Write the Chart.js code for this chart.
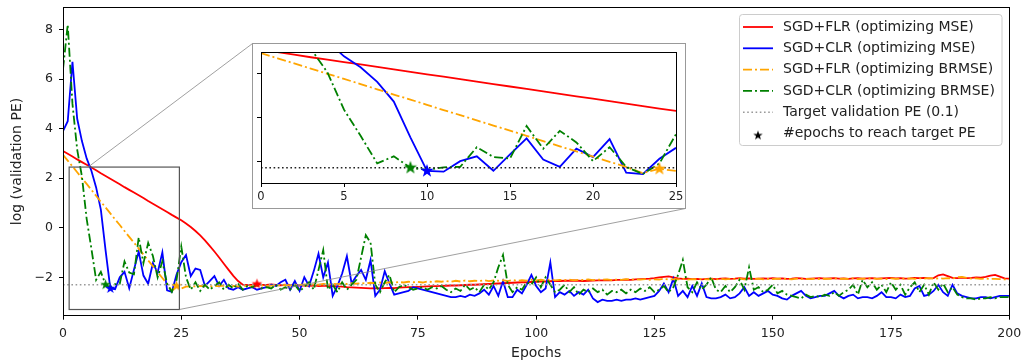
<!DOCTYPE html>
<html>
<head>
<meta charset="utf-8">
<script src="https://cdn.jsdelivr.net/npm/chart.js@4.4.1/dist/chart.umd.min.js"></script>
<style>
  html, body { margin: 0; padding: 0; background: #fff; }
  #wrap { position: relative; width: 1023px; height: 362px; }
  #main { position: absolute; left: 0; top: 0; }
  #insetBox { position: absolute; left: 252px; top: 43px; width: 434px; height: 166px;
              border: 1px solid #999; box-sizing: border-box; background: #fff; }
</style>
</head>
<body>
<div id="wrap">
  <canvas id="main" width="1023" height="362"></canvas>
  <div id="insetBox"><canvas id="inset" width="432" height="164"></canvas></div>
</div>
<script>
// ---- data (log validation PE per epoch, 0..200) ----
var epochs = [];
for (var i = 0; i <= 200; i++) epochs.push(i);

var flrMse = [3.10,2.99,2.88,2.76,2.65,2.54,2.43,2.32,2.20,2.09,1.98,1.87,1.76,1.64,1.53,1.42,1.31,1.20,1.08,0.97,
  0.86,0.75,0.64,0.52,0.41,0.30,0.17,0.03,-0.13,-0.31,-0.51,-0.73,-0.96,-1.20,-1.45,-1.70,-1.94,-2.15,-2.30,-2.31,
  -2.30,-2.27,-2.30,-2.31,-2.29,-2.31,-2.32,-2.30,-2.31,-2.33,-2.32,-2.33,-2.34,-2.33,-2.35,-2.34,-2.36,-2.35,-2.37,-2.38,
  -2.40,-2.41,-2.42,-2.43,-2.44,-2.45,-2.44,-2.45,-2.44,-2.43,-2.44,-2.42,-2.41,-2.40,-2.40,-2.39,-2.38,-2.37,-2.36,-2.36,
  -2.35,-2.34,-2.33,-2.33,-2.32,-2.31,-2.30,-2.30,-2.29,-2.28,-2.27,-2.26,-2.25,-2.24,-2.23,-2.22,-2.21,-2.20,-2.20,-2.19,
  -2.18,-2.17,-2.17,-2.16,-2.15,-2.15,-2.14,-2.14,-2.13,-2.14,-2.15,-2.14,-2.13,-2.12,-2.12,-2.11,-2.12,-2.10,-2.10,-2.09,
  -2.10,-2.08,-2.07,-2.06,-2.05,-2.03,-2.00,-1.98,-1.96,-2.00,-2.04,-2.06,-2.05,-2.07,-2.06,-2.08,-2.06,-2.05,-2.07,-2.05,
  -2.04,-2.06,-2.05,-2.03,-2.05,-2.04,-2.06,-2.05,-2.04,-2.05,-2.03,-2.05,-2.04,-2.06,-2.05,-2.03,-2.04,-2.06,-2.05,-2.04,
  -2.03,-2.05,-2.04,-2.03,-2.05,-2.04,-2.06,-2.04,-2.03,-2.05,-2.04,-2.03,-2.05,-2.04,-2.03,-2.02,-2.04,-2.03,-2.05,-2.04,
  -2.02,-2.03,-2.02,-2.04,-2.03,-1.92,-1.88,-1.95,-2.02,-2.03,-2.01,-2.03,-2.02,-2.00,-2.01,-1.98,-1.93,-1.90,-1.97,-2.04,
  -2.05];

var clrMse = [3.90,4.30,6.70,4.40,3.50,2.80,2.30,1.63,0.73,-0.91,-2.45,-2.48,-2.00,-1.78,-2.44,-1.69,-0.96,-1.93,-2.26,-1.43,
  -1.81,-0.99,-2.53,-2.59,-1.89,-1.39,-1.10,-1.95,-1.65,-1.70,-2.35,-2.15,-1.95,-2.35,-2.10,-2.45,-2.50,-2.40,-2.50,-2.45,
  -2.40,-2.50,-2.45,-2.40,-2.30,-2.35,-2.20,-2.10,-2.50,-2.15,-2.55,-2.00,-2.35,-1.75,-1.05,-2.00,-1.40,-2.75,-2.35,-1.85,
  -1.15,-2.25,-1.95,-1.70,-2.10,-1.30,-2.75,-2.50,-1.75,-2.25,-2.70,-2.65,-2.60,-2.55,-2.40,-2.45,-2.50,-2.55,-2.60,-2.65,
  -2.70,-2.75,-2.80,-2.80,-2.75,-2.80,-2.70,-2.75,-2.65,-2.50,-2.70,-2.35,-2.75,-2.15,-2.80,-2.80,-2.50,-2.65,-2.30,-1.90,
  -2.35,-2.60,-2.45,-1.40,-2.80,-2.60,-2.70,-2.55,-2.75,-2.60,-2.70,-2.50,-2.85,-3.00,-2.90,-2.95,-2.95,-2.90,-2.95,-2.90,
  -2.90,-2.85,-2.90,-2.85,-2.80,-2.75,-2.55,-2.25,-2.60,-2.05,-2.75,-2.55,-2.80,-2.35,-2.75,-2.25,-2.80,-2.85,-2.85,-2.80,
  -2.70,-2.85,-2.80,-2.65,-2.40,-2.75,-2.60,-2.75,-2.65,-2.55,-2.70,-2.75,-2.85,-2.90,-2.75,-2.65,-2.55,-2.75,-2.85,-2.80,
  -2.75,-2.75,-2.65,-2.55,-2.75,-2.85,-2.75,-2.70,-2.85,-2.80,-2.80,-2.85,-2.75,-2.60,-2.80,-2.80,-2.85,-2.70,-2.80,-2.75,
  -2.45,-2.35,-2.75,-2.70,-2.55,-2.30,-2.60,-2.75,-2.30,-2.65,-2.75,-2.80,-2.85,-2.85,-2.80,-2.80,-2.85,-2.80,-2.75,-2.75,
  -2.75];

var flrBrmse = [2.95,2.71,2.48,2.24,2.00,1.77,1.53,1.29,1.05,0.82,0.58,0.34,0.11,-0.13,-0.37,-0.60,-0.84,-1.08,-1.32,-1.55,
  -1.79,-2.03,-2.26,-2.55,-2.35,-2.45,-2.38,-2.36,-2.37,-2.35,-2.36,-2.37,-2.35,-2.36,-2.34,-2.36,-2.35,-2.37,-2.35,-2.34,
  -2.36,-2.35,-2.33,-2.35,-2.34,-2.32,-2.33,-2.31,-2.33,-2.30,-2.31,-2.29,-2.31,-2.28,-2.30,-2.27,-2.29,-2.26,-2.28,-2.25,
  -2.27,-2.24,-2.26,-2.23,-2.25,-2.22,-2.24,-2.21,-2.23,-2.20,-2.22,-2.19,-2.21,-2.18,-2.20,-2.18,-2.21,-2.17,-2.19,-2.16,
  -2.18,-2.15,-2.18,-2.14,-2.17,-2.13,-2.16,-2.14,-2.15,-2.12,-2.15,-2.13,-2.14,-2.12,-2.15,-2.11,-2.14,-2.12,-2.13,-2.10,
  -2.12,-2.10,-2.13,-2.09,-2.12,-2.10,-2.11,-2.09,-2.12,-2.10,-2.11,-2.08,-2.11,-2.09,-2.10,-2.08,-2.11,-2.09,-2.10,-2.07,
  -2.10,-2.08,-2.09,-2.07,-2.10,-2.08,-2.09,-2.06,-2.09,-2.07,-2.08,-2.06,-2.09,-2.07,-2.08,-2.06,-2.08,-2.07,-2.09,-2.06,
  -2.08,-2.06,-2.07,-2.05,-2.08,-2.06,-2.07,-2.05,-2.08,-2.06,-2.07,-2.05,-2.07,-2.06,-2.08,-2.05,-2.07,-2.06,-2.07,-2.05,
  -2.07,-2.05,-2.06,-2.04,-2.07,-2.05,-2.06,-2.04,-2.07,-2.05,-2.06,-2.04,-2.06,-2.05,-2.07,-2.04,-2.06,-2.05,-2.06,-2.04,
  -2.06,-2.04,-2.05,-2.03,-2.06,-2.04,-2.05,-2.03,-2.05,-2.00,-1.98,-2.02,-2.05,-2.04,-2.06,-2.05,-2.07,-2.06,-2.07,-2.08,
  -2.08];

var clrBrmse = [6.40,8.20,5.00,3.15,2.07,0.36,-0.84,-2.10,-1.78,-2.30,-2.40,-2.28,-2.26,-1.36,-1.81,-1.88,-0.39,-1.43,-0.61,-1.14,
  -2.00,-1.36,-2.26,-2.59,-2.11,-0.76,-2.00,-2.50,-2.20,-2.55,-2.30,-2.50,-2.35,-2.20,-2.50,-2.30,-2.45,-2.25,-2.50,-2.35,
  -2.40,-2.30,-2.45,-2.40,-2.45,-2.30,-2.50,-2.40,-2.50,-2.30,-2.55,-2.40,-2.20,-2.50,-1.70,-0.90,-2.50,-2.30,-2.60,-2.20,
  -2.50,-2.30,-2.10,-1.20,-0.30,-0.60,-2.30,-2.60,-2.20,-1.90,-2.60,-2.40,-2.30,-2.40,-2.50,-2.45,-2.40,-2.50,-2.40,-2.45,
  -2.35,-2.50,-2.60,-2.45,-2.55,-2.30,-2.50,-2.40,-2.60,-2.30,-2.50,-2.20,-1.60,-1.10,-2.30,-2.60,-2.40,-2.50,-2.20,-2.30,
  -2.00,-2.40,-2.00,-2.30,-2.60,-2.50,-2.30,-2.60,-2.40,-2.70,-2.50,-2.60,-2.45,-2.60,-2.50,-2.70,-2.55,-2.60,-2.50,-2.65,
  -2.50,-2.60,-2.45,-2.55,-2.40,-2.60,-2.50,-2.35,-2.60,-2.40,-1.90,-1.30,-2.40,-2.60,-2.20,-2.50,-2.30,-2.00,-2.50,-2.60,
  -2.35,-2.60,-2.40,-2.10,-2.50,-1.60,-2.50,-2.40,-2.60,-2.50,-2.30,-2.65,-2.55,-2.70,-2.75,-2.80,-2.85,-2.70,-2.80,-2.75,
  -2.80,-2.70,-2.75,-2.60,-2.75,-2.60,-2.50,-2.30,-2.70,-2.10,-2.40,-2.20,-2.50,-2.30,-2.60,-2.20,-2.50,-2.30,-2.70,-2.40,
  -2.20,-2.60,-2.30,-2.70,-2.20,-2.50,-2.25,-2.60,-2.40,-2.70,-2.80,-2.85,-2.85,-2.90,-2.85,-2.85,-2.80,-2.85,-2.80,-2.80,
  -2.80];

var targetPE = -2.303;            // log(0.1)
var starEpochs = [41, 10, 24, 9]; // epochs to reach target PE: FLR-MSE, CLR-MSE, FLR-BRMSE, CLR-BRMSE
var yTicksMain = [-2, 0, 2, 4, 6, 8];
var xTicksMain = [0, 25, 50, 75, 100, 125, 150, 175, 200];
var xTicksInset = [0, 5, 10, 15, 20, 25];
var zoomBox = { x0: 1.3, x1: 24.6, y0: -3.3, y1: 2.45 };

var seriesNames = ['SGD+FLR (optimizing MSE)', 'SGD+CLR (optimizing MSE)',
                   'SGD+FLR (optimizing BRMSE)', 'SGD+CLR (optimizing BRMSE)'];
var seriesVals = [flrMse, clrMse, flrBrmse, clrBrmse];
var colors = ['#ff0000', '#0000ff', '#ffa500', '#008000'];
var dashes = [[], [], [9, 3, 2, 3], [9, 3, 2, 3]];

var FONT = "'DejaVu Sans', sans-serif";

function starImg(color, r) {
  var c = document.createElement('canvas');
  var s = Math.ceil(r * 2 + 2);
  c.width = s; c.height = s;
  var g = c.getContext('2d');
  g.fillStyle = color;
  g.beginPath();
  for (var k = 0; k < 10; k++) {
    var a = -Math.PI / 2 + k * Math.PI / 5;
    var rr = k % 2 === 0 ? r : r * 0.4;
    g.lineTo(s / 2 + rr * Math.cos(a), s / 2 + rr * Math.sin(a));
  }
  g.closePath();
  g.fill();
  return c;
}

function pts(vals) {
  return vals.map(function (v, i) { return { x: epochs[i], y: v }; });
}

function buildDatasets(targetColor, starR) {
  var ds = [];
  seriesVals.forEach(function (vals, k) {
    ds.push({
      label: seriesNames[k], data: pts(vals), borderColor: colors[k], borderWidth: 1.8,
      borderDash: dashes[k], pointRadius: 0, order: 5 - k
    });
  });
  ds.push({
    label: 'Target validation PE (0.1)',
    data: [{ x: 0, y: targetPE }, { x: 200, y: targetPE }],
    borderColor: targetColor, borderWidth: 1.6, borderDash: [1.6, 2.6], pointRadius: 0, order: 1
  });
  starEpochs.forEach(function (e, k) {
    ds.push({
      label: 'star' + k, data: [{ x: e, y: seriesVals[k][e] }], showLine: false,
      pointStyle: starImg(colors[k], starR), pointRadius: starR, order: 0
    });
  });
  return ds;
}

// keep the plot box where we put it: no extra room for edge tick labels
function noEdgePad(s) {
  s.paddingTop = 0; s.paddingBottom = 0; s.paddingLeft = 0; s.paddingRight = 0;
}

var framePlugin = {
  id: 'frame',
  afterDatasetsDraw: function (chart) {
    var a = chart.chartArea, c = chart.ctx;
    c.save();
    c.strokeStyle = '#000'; c.lineWidth = 1;
    c.strokeRect(Math.round(a.left) + 0.5, Math.round(a.top) + 0.5,
                 Math.round(a.right - a.left), Math.round(a.bottom - a.top));
    c.restore();
  }
};

var zoomPlugin = {
  id: 'zoomMark',
  afterDatasetsDraw: function (chart) {
    var x = chart.scales.x, y = chart.scales.y, c = chart.ctx;
    var l = x.getPixelForValue(zoomBox.x0), r = x.getPixelForValue(zoomBox.x1);
    var t = y.getPixelForValue(zoomBox.y1), b = y.getPixelForValue(zoomBox.y0);
    c.save();
    c.strokeStyle = '#555'; c.lineWidth = 1.2;
    c.strokeRect(l, t, r - l, b - t);
    c.strokeStyle = '#888'; c.lineWidth = 0.8;
    c.beginPath();
    c.moveTo(x.getPixelForValue(5.3), t); c.lineTo(252.5, 43.5);
    c.moveTo(r, b); c.lineTo(685.5, 208.5);
    c.stroke();
    c.restore();
  }
};

var legendPlugin = {
  id: 'boxLegend',
  afterDraw: function (chart) {
    var c = chart.ctx;
    var L = 739.5, T = 14.5, W = 262.5, H = 131;
    c.save();
    c.fillStyle = 'rgba(255,255,255,0.85)';
    c.strokeStyle = '#cccccc'; c.lineWidth = 1;
    c.beginPath();
    c.roundRect(L, T, W, H, 3);
    c.fill(); c.stroke();
    c.font = '14px ' + FONT;
    c.textBaseline = 'middle';
    c.fillStyle = '#222';
    var rows = seriesNames.concat(['Target validation PE (0.1)', '#epochs to reach target PE']);
    for (var k = 0; k < rows.length; k++) {
      var yy = 27 + k * 21.3;
      if (k < 4) {
        c.strokeStyle = colors[k]; c.lineWidth = 1.8; c.setLineDash(dashes[k]);
        c.beginPath(); c.moveTo(743, yy); c.lineTo(773, yy); c.stroke();
      } else if (k === 4) {
        c.strokeStyle = '#999'; c.lineWidth = 1.6; c.setLineDash([1.6, 2.6]);
        c.beginPath(); c.moveTo(743, yy); c.lineTo(773, yy); c.stroke();
      } else {
        var st = starImg('#000', 5);
        c.drawImage(st, 758 - st.width / 2, yy + 2 - st.height / 2);
      }
      c.setLineDash([]);
      c.fillStyle = '#222';
      c.fillText(rows[k], 783, yy);
    }
    c.restore();
  }
};

function tickOpts(size, show, pad) {
  return {
    autoSkip: false, maxRotation: 0, color: '#222', font: { family: FONT, size: size },
    padding: pad, display: true,
    callback: function (v) { return show ? String(v).replace('-', '\u2212') : ''; }
  };
}

new Chart(document.getElementById('main'), {
  type: 'line',
  data: { datasets: buildDatasets('#999999', 5.5) },
  options: {
    responsive: false, animation: false, devicePixelRatio: 1,
    layout: { padding: { left: 0, right: 13.7, top: 7.3, bottom: 0 } },
    plugins: { legend: { display: false }, tooltip: { enabled: false } },
    elements: { line: { tension: 0 } },
    scales: {
      x: {
        type: 'linear', min: 0, max: 200,
        afterBuildTicks: function (s) { s.ticks = xTicksMain.map(function (v) { return { value: v }; }); },
        ticks: tickOpts(12.5, true, 7),
        grid: { drawOnChartArea: false, color: '#000', tickLength: 4 },
        border: { color: '#000' },
        title: { display: true, text: 'Epochs', color: '#222', font: { family: FONT, size: 14 }, padding: { top: 2, bottom: 0 } },
        afterFit: function (s) { s.height = 46.3; noEdgePad(s); }
      },
      y: {
        type: 'linear', min: -3.55, max: 8.9,
        afterBuildTicks: function (s) { s.ticks = yTicksMain.map(function (v) { return { value: v }; }); },
        ticks: tickOpts(12.5, true, 6),
        grid: { drawOnChartArea: false, color: '#000', tickLength: 4 },
        border: { color: '#000' },
        title: { display: true, text: 'log (validation PE)', color: '#222', font: { family: FONT, size: 14 }, padding: { top: 9, bottom: 0 } },
        afterFit: function (s) { s.width = 63; noEdgePad(s); }
      }
    }
  },
  plugins: [zoomPlugin, framePlugin, legendPlugin]
});

new Chart(document.getElementById('inset'), {
  type: 'line',
  data: { datasets: buildDatasets('#222222', 7) },
  options: {
    responsive: false, animation: false, devicePixelRatio: 1,
    layout: { padding: { left: 0, right: 9, top: 5.3, bottom: 0 } },
    plugins: { legend: { display: false }, tooltip: { enabled: false } },
    elements: { line: { tension: 0 } },
    scales: {
      x: {
        type: 'linear', min: 0, max: 25,
        afterBuildTicks: function (s) { s.ticks = xTicksInset.map(function (v) { return { value: v }; }); },
        ticks: tickOpts(11.5, true, 3),
        grid: { drawOnChartArea: false, color: '#000', tickLength: 4 },
        border: { color: '#000' },
        afterFit: function (s) { s.height = 25; noEdgePad(s); }
      },
      y: {
        type: 'linear', min: -3, max: 3,
        afterBuildTicks: function (s) { s.ticks = [-2, 0, 2].map(function (v) { return { value: v }; }); },
        ticks: tickOpts(11, false, 0),
        grid: { drawOnChartArea: false, color: '#000', tickLength: 4 },
        border: { color: '#000' },
        afterFit: function (s) { s.width = 7.7; noEdgePad(s); }
      }
    }
  },
  plugins: [framePlugin]
});
</script>
</body>
</html>
